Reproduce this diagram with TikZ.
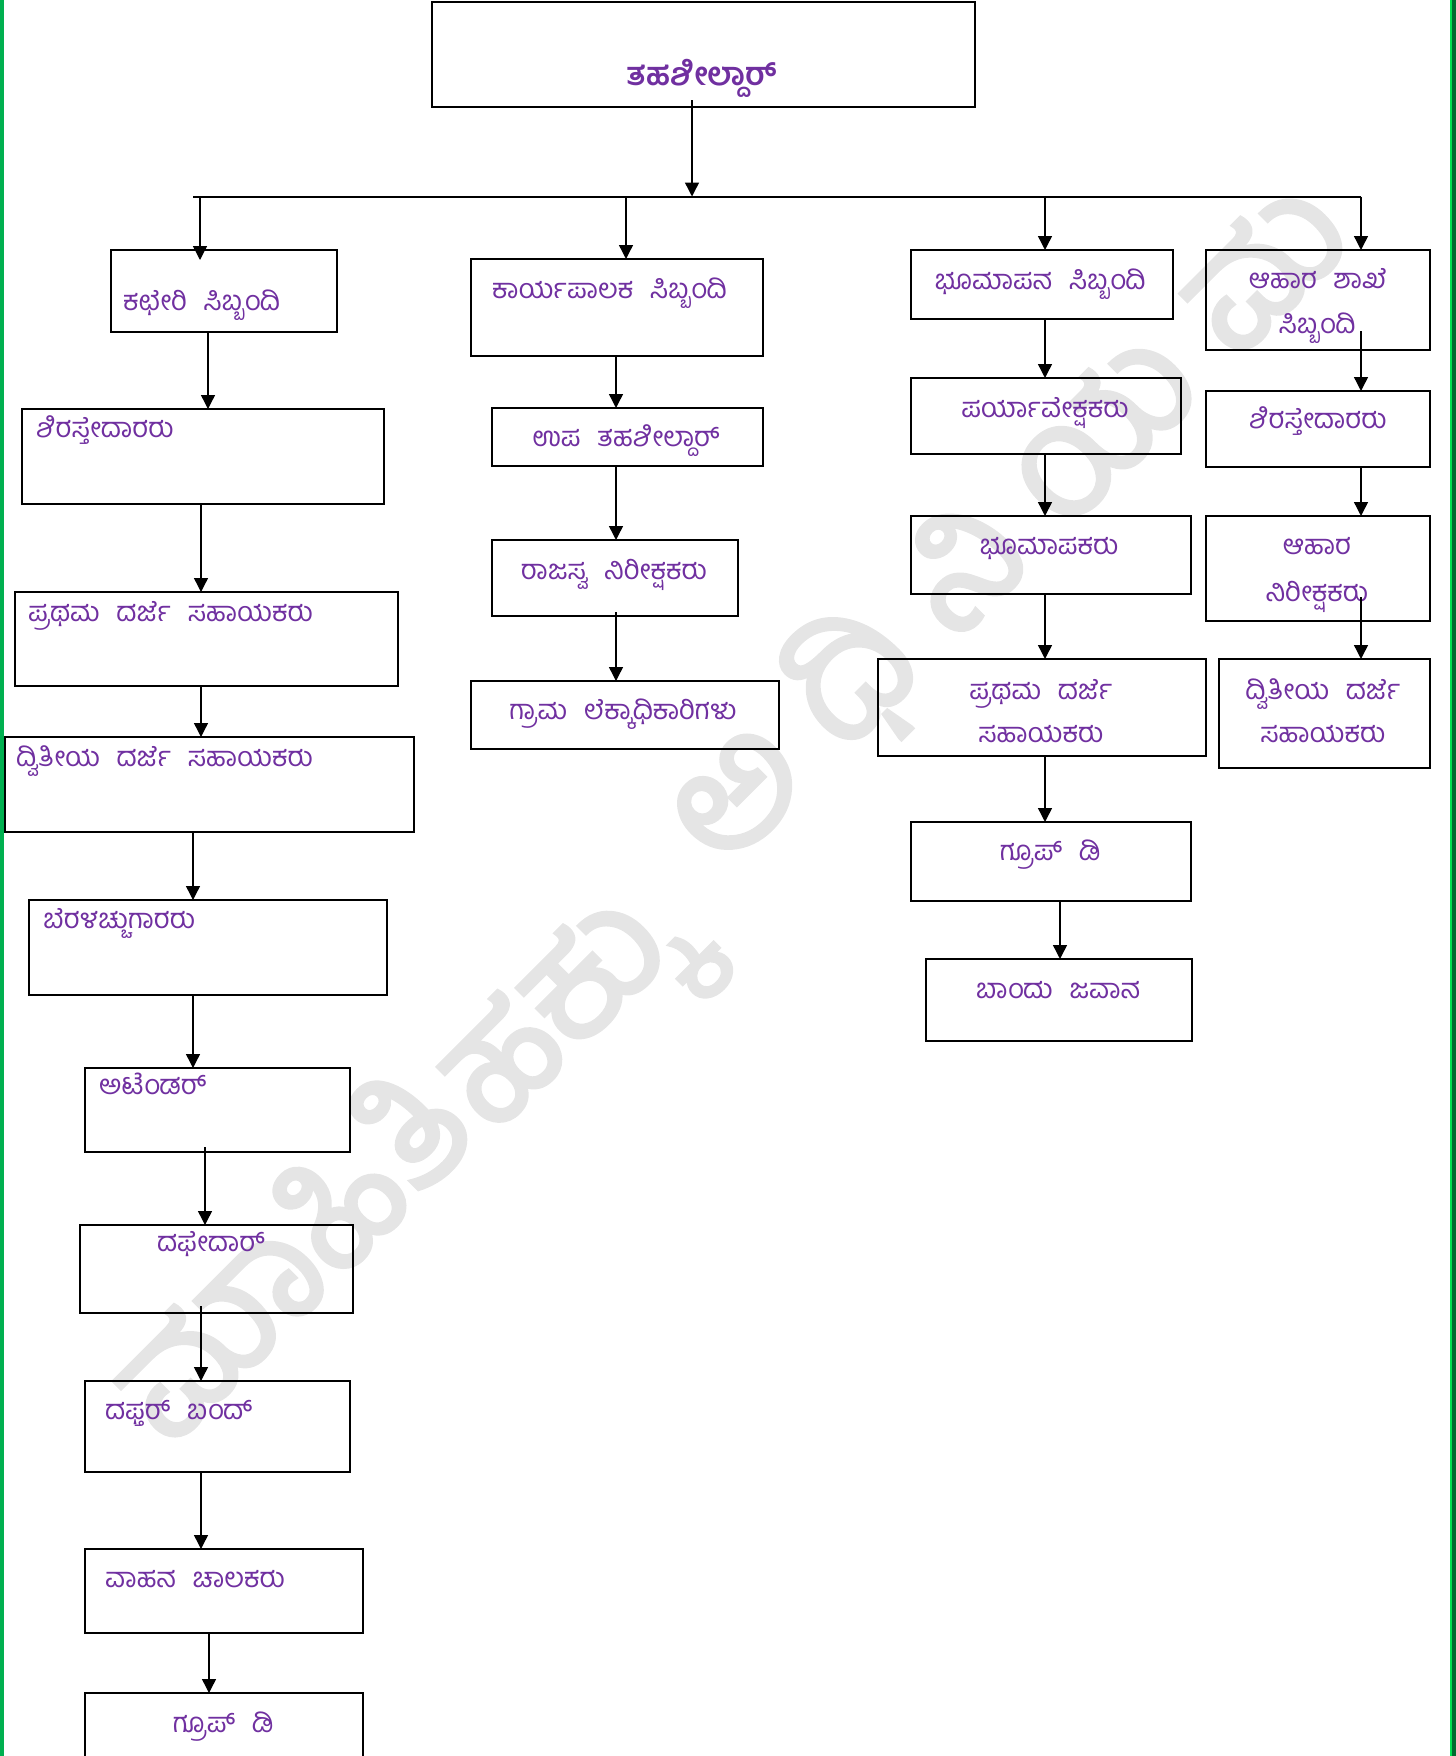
\documentclass[tikz,border=0pt]{standalone}
\usepackage{fontspec}
\newfontfamily\kn[Script=Kannada]{Hind Mysuru}
\newfontfamily\knw[Script=Kannada,FakeBold=2.2]{Hind Mysuru}
\usetikzlibrary{arrows.meta}
\definecolor{kpurple}{HTML}{7030A0}
\definecolor{gleft}{HTML}{00B050}
\definecolor{gright}{HTML}{00E050}
\definecolor{gdark}{HTML}{006A30}
\newcommand\wsp{\spaceskip 0.6em\relax}
\newcommand\mybox[5]{\node[bx, minimum width={(#4-#2)*1pt}, minimum height={(#5-#3)*1pt}] (#1) at ({(#2+#4)/2},{(#3+#5)/2}) {};}
\newcommand\varr[4][]{\draw[arr,#1] (#2.south -| #4,0) -- (#3.north -| #4,0);}
\begin{document}
\begin{tikzpicture}[x=1pt,y=-1pt,
  bx/.style={draw=black, line width=1.3pt, inner sep=0pt, outer sep=0pt},
  lbl/.style={text=kpurple, font=\kn\fontsize{27.5}{32}\selectfont\wsp, inner sep=0pt, text height=0.75em, text depth=0.25em, yshift=-7pt},
  wmk/.style={rotate=45, text=black!10, inner sep=0pt, font=\knw\fontsize{160}{160}\selectfont},
  arr/.style={line width=1.4pt, -{Triangle[length=14pt,width=14pt]}}]
\useasboundingbox (0,0) rectangle (1456,1756);
% page border
\fill[gleft] (0,0) rectangle (4,1756);
\fill[gright] (1450,0) rectangle (1452,1756);
\fill[gdark] (1452,0) rectangle (1456,1756);
% watermark
\node[wmk] (wm1) at (285,1250) {ಮಾಹಿತಿ};
\node[wmk] (wm2) at (575,1025) {ಹಕ್ಕು};
\node[wmk] (wm3) at (1010,525) {ಅ\hspace{0.25em}ಧಿ\hspace{0.25em}ನಿ\hspace{0.25em}ಯ\hspace{0.25em}ಮ};
% boxes
\mybox{T}{432}{2}{975}{107}
\mybox{K}{111}{250}{337}{332}
\mybox{S1}{22}{409}{384}{504}
\mybox{P1}{15}{592}{398}{686}
\mybox{D1}{5}{737}{414}{832}
\mybox{B1}{29}{900}{387}{995}
\mybox{A1}{85}{1068}{350}{1152}
\mybox{F1}{80}{1225}{353}{1313}
\mybox{DB}{85}{1381}{350}{1472}
\mybox{V}{85}{1549}{363}{1633}
\mybox{G1}{85}{1693}{363}{1790}
\mybox{E}{471}{259}{763}{356}
\mybox{U}{492}{408}{763}{466}
\mybox{R}{492}{540}{738}{616}
\mybox{GL}{471}{681}{779}{749}
\mybox{BS}{911}{250}{1173}{319}
\mybox{PV}{911}{378}{1181}{454}
\mybox{BK}{911}{516}{1191}{594}
\mybox{P3}{878}{659}{1206}{756}
\mybox{G3}{911}{822}{1191}{901}
\mybox{BJ}{926}{959}{1192}{1041}
\mybox{AS}{1206}{250}{1430}{350}
\mybox{S4}{1206}{391}{1430}{467}
\mybox{AN}{1206}{516}{1430}{621}
\mybox{D4}{1219}{659}{1430}{768}
% labels
\node[lbl, font=\kn\bfseries\fontsize{32}{36}\selectfont, yshift=-1pt] (tT) at (702,75) {ತಹಶೀಲ್ದಾರ್};
\node[lbl, anchor=west] (tK) at (123,301) {ಕಛೇರಿ ಸಿಬ್ಬಂದಿ};
\node[lbl, anchor=west] (tS1) at (36,428) {ಶಿರಸ್ತೇದಾರರು};
\node[lbl, anchor=west] (tP1) at (28,612) {ಪ್ರಥಮ ದರ್ಜೆ ಸಹಾಯಕರು};
\node[lbl, anchor=west] (tD1) at (16,757) {ದ್ವಿತೀಯ ದರ್ಜೆ ಸಹಾಯಕರು};
\node[lbl, anchor=west] (tB1) at (43,919) {ಬೆರಳಚ್ಚುಗಾರರು};
\node[lbl, anchor=west] (tA1) at (99,1085) {ಅಟೆಂಡರ್};
\node[lbl] (tF1) at (211,1242) {ದಫೇದಾರ್};
\node[lbl, anchor=west] (tDB) at (105,1410) {ದಫ್ತರ್ ಬಂದ್};
\node[lbl, anchor=west] (tV) at (105,1578) {ವಾಹನ ಚಾಲಕರು};
\node[lbl] (tG1) at (223,1723) {ಗ್ರೂಪ್ ಡಿ};
\node[lbl, anchor=west] (tE) at (492,289) {ಕಾರ್ಯಪಾಲಕ ಸಿಬ್ಬಂದಿ};
\node[lbl] (tU) at (626,437) {ಉಪ ತಹಶೀಲ್ದಾರ್};
\node[lbl] (tR) at (614,570) {ರಾಜಸ್ವ ನಿರೀಕ್ಷಕರು};
\node[lbl] (tGL) at (623,710) {ಗ್ರಾಮ ಲೆಕ್ಕಾಧಿಕಾರಿಗಳು};
\node[lbl] (tBS) at (1040,280) {ಭೂಮಾಪನ ಸಿಬ್ಬಂದಿ};
\node[lbl] (tPV) at (1045,408) {ಪರ್ಯಾವೇಕ್ಷಕರು};
\node[lbl] (tBK) at (1049,545) {ಭೂಮಾಪಕರು};
\node[lbl] (tP3a) at (1041,690) {ಪ್ರಥಮ ದರ್ಜೆ};
\node[lbl] (tP3b) at (1041,733) {ಸಹಾಯಕರು};
\node[lbl] (tG3) at (1050,851) {ಗ್ರೂಪ್ ಡಿ};
\node[lbl] (tBJ) at (1058,989) {ಬಾಂದು ಜವಾನ};
\node[lbl] (tASa) at (1318,279) {ಆಹಾರ ಶಾಖೆ};
\node[lbl] (tASb) at (1317,324) {ಸಿಬ್ಬಂದಿ};
\node[lbl] (tS4) at (1318,419) {ಶಿರಸ್ತೇದಾರರು};
\node[lbl] (tANa) at (1317,545) {ಆಹಾರ};
\node[lbl] (tANb) at (1317,592) {ನಿರೀಕ್ಷಕರು};
\node[lbl] (tD4a) at (1323,690) {ದ್ವಿತೀಯ ದರ್ಜೆ};
\node[lbl] (tD4b) at (1323,733) {ಸಹಾಯಕರು};
% bus
\coordinate (busL) at (193,196.5);
\coordinate (busR) at (1361,196.5);
\coordinate (busM) at (692,196.5);
\draw[line width=2pt] (busL) -- (busR);
\draw[arr, shorten <=-7pt] (T.south -| busM) -- (busM);
\draw[arr, shorten >=-10pt] (busL -| 200,0) -- (K.north -| 200,0);
\draw[arr] (busL -| 626,0) -- (E.north -| 626,0);
\draw[arr] (busL -| 1045,0) -- (BS.north -| 1045,0);
\draw[arr] (busR) -- (AS.north -| busR);
% column 1
\varr{K}{S1}{208}
\varr{S1}{P1}{201}
\varr{P1}{D1}{201}
\varr{D1}{B1}{193}
\varr{B1}{A1}{193}
\varr[shorten <=-5pt]{A1}{F1}{205}
\varr[shorten <=-7pt]{F1}{DB}{201}
\varr{DB}{V}{201}
\varr{V}{G1}{209}
% column 2
\varr{E}{U}{616}
\varr{U}{R}{616}
\varr[shorten <=-4pt]{R}{GL}{616}
% column 3
\varr{BS}{PV}{1045}
\varr{PV}{BK}{1045}
\varr{BK}{P3}{1045}
\varr{P3}{G3}{1045}
\varr{G3}{BJ}{1060}
% column 4
\varr[shorten <=-19pt]{AS}{S4}{1361}
\varr{S4}{AN}{1361}
\varr[shorten <=-24pt]{AN}{D4}{1361}
\end{tikzpicture}
\end{document}
